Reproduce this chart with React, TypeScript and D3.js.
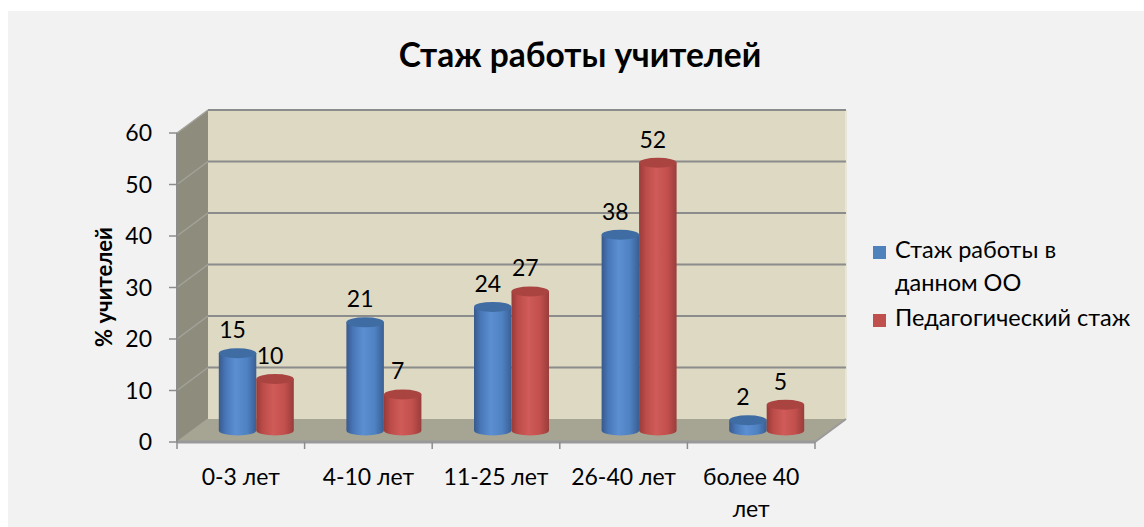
import React from 'react';
import * as d3 from 'd3';

const categories = ['0-3 лет', '4-10 лет', '11-25 лет', '26-40 лет', 'более 40 лет'];
const seriesNames = ['Стаж работы в данном ОО', 'Педагогический стаж'];
const workHere = [15, 21, 24, 38, 2];
const teaching = [10, 7, 27, 52, 5];
const yTicks = [0, 10, 20, 30, 40, 50, 60];

const FONT = 'Lato, "Noto Sans", sans-serif';

export default function App() {
  const width = 1144;
  const height = 527;

  // front plane of the 3d box
  const left = 177;
  const right = 815;
  const bottom = 442;
  const top = 133;
  // depth of the box
  const dx = 31;
  const dy = -23;

  const x = d3.scaleBand().domain(categories).range([left, right]);
  const y = d3.scaleLinear().domain([0, 60]).range([bottom, top]);
  const s = d3.scaleBand().domain(seriesNames).range([-37.5, 37.5]);

  const colors = ['blue', 'red'];
  const topColors = ['#3f6ca3', '#aa4441'];
  const values = [workHere, teaching];

  const bars = categories.flatMap((c, i) =>
    seriesNames.map((name, j) => ({ c, name, j, v: values[j][i] }))
  );

  const rx = s.bandwidth() / 2;
  const ry = 5;

  const wrap = (label: string) => {
    if (label.length <= 10) return [label];
    const words = label.split(' ');
    return [words.slice(0, -1).join(' '), words[words.length - 1]];
  };

  return (
    <svg
      width={width}
      height={height}
      style={{ position: 'absolute', left: 0, top: 0, display: 'block' }}
    >
      <defs>
        <linearGradient id="blue" x1="0" x2="1" y1="0" y2="0">
          <stop offset="0%" stopColor="#38598c" />
          <stop offset="18%" stopColor="#4877b8" />
          <stop offset="45%" stopColor="#5b8fd2" />
          <stop offset="75%" stopColor="#4f82c2" />
          <stop offset="100%" stopColor="#3a5f94" />
        </linearGradient>
        <linearGradient id="red" x1="0" x2="1" y1="0" y2="0">
          <stop offset="0%" stopColor="#983b39" />
          <stop offset="18%" stopColor="#bc4c49" />
          <stop offset="45%" stopColor="#d05b58" />
          <stop offset="75%" stopColor="#c2504d" />
          <stop offset="100%" stopColor="#9a3d3b" />
        </linearGradient>
      </defs>

      <rect x={0} y={0} width={width} height={height} fill="#ffffff" />
      <rect x={8} y={11} width={width - 8} height={height - 11} fill="#f2f2f2" />

      {/* title */}
      <text
        x={580}
        y={67}
        textAnchor="middle"
        fontFamily={FONT}
        fontWeight="bold"
        fontSize={33.5}
        fill="#000"
      >
        Стаж работы учителей
      </text>

      {/* back wall */}
      <rect
        x={left + dx}
        y={top + dy}
        width={right - left}
        height={bottom - top}
        fill="#ddd9c3"
      />
      <line
        x1={right + dx}
        x2={right + dx}
        y1={top + dy}
        y2={bottom + dy}
        stroke="#e8e6da"
        strokeWidth={2}
      />

      {/* side wall */}
      <polygon
        points={`${left},${top} ${left + dx},${top + dy} ${left + dx},${bottom + dy} ${left},${bottom}`}
        fill="#8e8d7d"
      />

      {/* gridlines */}
      {yTicks.map((t) => (
        <g key={t}>
          <line
            x1={left}
            y1={y(t)}
            x2={left + dx}
            y2={y(t) + dy}
            stroke="#a3a29a"
            strokeWidth={1.5}
          />
          {t > 0 && (
            <line
              x1={left + dx}
              x2={right + dx}
              y1={y(t) + dy}
              y2={y(t) + dy}
              stroke="#8c8c8c"
              strokeWidth={2}
            />
          )}
        </g>
      ))}

      {/* floor */}
      <polygon
        points={`${left},${bottom} ${right},${bottom} ${right + dx},${bottom + dy} ${left + dx},${bottom + dy}`}
        fill="#a6a594"
      />
      <line x1={right} y1={bottom} x2={right + dx} y2={bottom + dy} stroke="#9a9a9a" strokeWidth={2} />
      <line x1={left} x2={right} y1={bottom} y2={bottom} stroke="#999999" strokeWidth={3} />

      {/* y axis */}
      <line x1={left} x2={left} y1={top} y2={bottom} stroke="#8c8c8c" strokeWidth={2} />
      {yTicks.map((t) => (
        <g key={t}>
          <line x1={left - 8} x2={left} y1={y(t)} y2={y(t)} stroke="#8c8c8c" strokeWidth={1.5} />
          <text
            x={152}
            y={y(t)}
            dy="0.36em"
            textAnchor="end"
            fontFamily={FONT}
            fontSize={23}
            fill="#000"
          >
            {t}
          </text>
        </g>
      ))}
      <text
        transform={`translate(112,287) rotate(-90)`}
        textAnchor="middle"
        fontFamily={FONT}
        fontWeight="bold"
        fontSize={22}
        fill="#000"
      >
        % учителей
      </text>

      {/* x axis */}
      {[...categories.map((c) => x(c) as number), right].map((px, i) => (
        <line key={i} x1={px} x2={px} y1={bottom} y2={bottom + 7} stroke="#8c8c8c" strokeWidth={1.5} />
      ))}
      {categories.map((c) => (
        <text
          key={c}
          x={(x(c) as number) + x.bandwidth() / 2}
          y={485}
          textAnchor="middle"
          fontFamily={FONT}
          fontSize={23}
          fill="#000"
        >
          {wrap(c).map((line, k) => (
            <tspan key={k} x={(x(c) as number) + x.bandwidth() / 2} dy={k === 0 ? 0 : 32}>
              {line}
            </tspan>
          ))}
        </text>
      ))}

      {/* cylinders */}
      {bars.map((b) => {
        const cx = (x(b.c) as number) + x.bandwidth() / 2 + (s(b.name) as number) + rx + dx / 2;
        const base = y(0) + dy / 2;
        const yt = y(b.v) + dy / 2;
        const body = `M${cx - rx},${yt} L${cx - rx},${base} A${rx},${ry} 0 0 0 ${cx + rx},${base} L${cx + rx},${yt} Z`;
        return (
          <g key={b.c + b.name}>
            <path d={body} fill={`url(#${colors[b.j]})`} />
            <ellipse cx={cx} cy={yt} rx={rx} ry={ry} fill={topColors[b.j]} />
            <text
              x={cx - 5}
              y={yt - ry - 10}
              textAnchor="middle"
              fontFamily={FONT}
              fontSize={23}
              fill="#000"
            >
              {b.v}
            </text>
          </g>
        );
      })}

      {/* legend */}
      {seriesNames.map((name, j) => {
        const ly = j === 0 ? 258 : 326;
        const lines = j === 0 ? ['Стаж работы в', 'данном ОО'] : [name];
        return (
          <g key={name}>
            <rect x={873} y={ly - 12} width={13} height={13} fill={j === 0 ? '#4f81bd' : '#c0504d'} />
            <text x={895} y={ly} fontFamily={FONT} fontSize={23.5} fill="#000">
              {lines.map((l, k) => (
                <tspan key={k} x={895} dy={k === 0 ? 0 : 33}>
                  {l}
                </tspan>
              ))}
            </text>
          </g>
        );
      })}
    </svg>
  );
}
